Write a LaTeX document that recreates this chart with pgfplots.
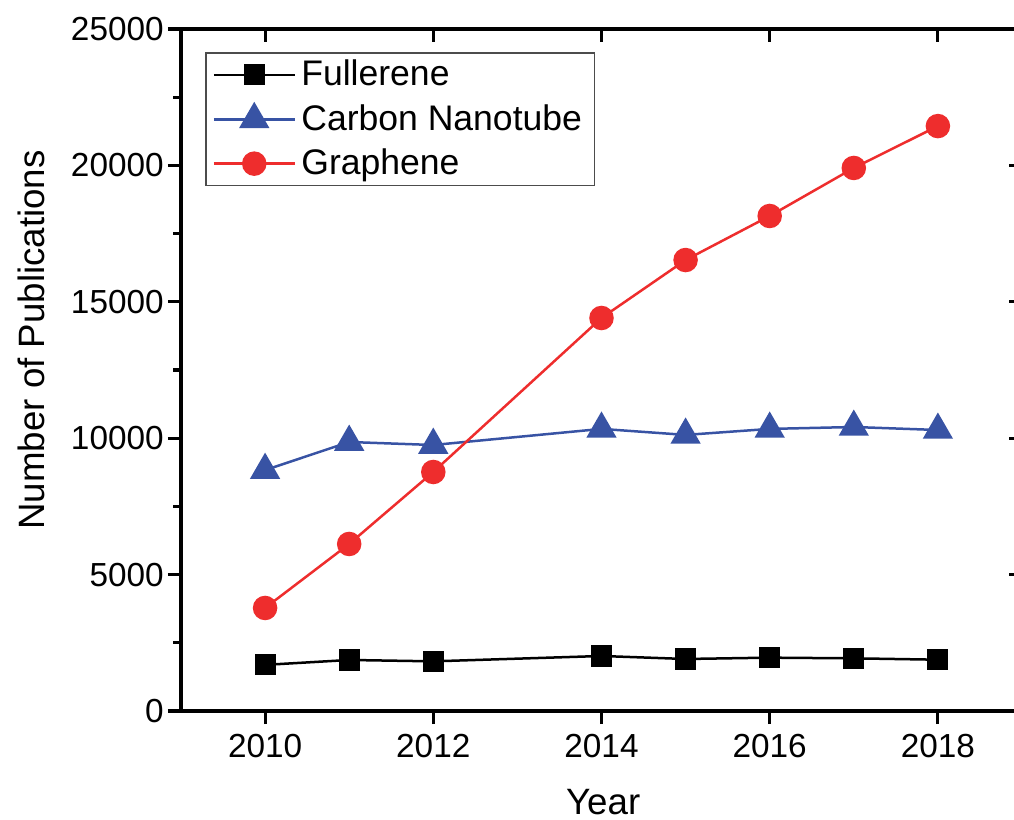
\documentclass[border=0pt]{standalone}
\usepackage{pgfplots}
\pgfplotsset{compat=1.18}
\usepackage{fontspec}
\setmainfont{Liberation Sans}
\definecolor{cred}{RGB}{238,45,45}
\definecolor{cblue}{RGB}{56,83,164}
\begin{document}
\begin{tikzpicture}
\pgfplotsset{
  common/.style={
    scale only axis, width=302.76pt, height=245.52pt,
    xmin=2009, xmax=2019, ymin=0, ymax=25000,
    xtick={2010,2012,...,2018}, ytick={0,5000,...,25000},
    minor x tick num=1, minor y tick num=1,
    axis line style={line width=1.1pt},
    major tick length=4.7pt, minor tick length=2.8pt,
    tick style={line width=1.1pt, black},
    scaled y ticks=false,
    /pgf/number format/1000 sep={},
    /pgf/number format/assume math mode=true,
    ticklabel style={font=\fontsize{12}{14}\selectfont},
  }
}
\begin{axis}[common, name=ax,
  xtick pos=left, ytick pos=left, tick align=outside,
  yticklabel style={xshift=2pt},
  xlabel={Year}, ylabel={Number of Publications},
  label style={font=\fontsize{13.2}{15}\selectfont},
  xlabel style={at={(axis description cs:0.502,-0.1525)}, anchor=base},
  ylabel style={at={(axis description cs:-0.1617,0.544)}, anchor=base},
  legend style={at={(0.0285,0.966)}, anchor=north west, draw=black!70,
    line width=0.6pt, font=\fontsize{12.8}{15}\selectfont,
    row sep=1.2pt, inner xsep=2.5pt, inner ysep=0.5pt, cells={anchor=west}},
  legend image code/.code={\draw[mark repeat=2, mark phase=2] plot coordinates {(0pt,0pt)(14.5pt,0pt)(29pt,0pt)};},
]
\addplot[black, line width=0.9pt, mark=square*, mark size=3.35pt] coordinates {
 (2010,1690) (2011,1870) (2012,1820) (2014,2016) (2015,1906) (2016,1955) (2017,1930) (2018,1880)};
\addlegendentry{Fullerene}
\addplot[cblue, line width=0.9pt, mark=triangle*, mark size=5.4pt] coordinates {
 (2010,8830) (2011,9860) (2012,9750) (2014,10340) (2015,10120) (2016,10340) (2017,10410) (2018,10300)};
\addlegendentry{Carbon Nanotube}
\addplot[cred, line width=0.9pt, mark=*, mark size=3.96pt] coordinates {
 (2010,3776) (2011,6122) (2012,8761) (2014,14406) (2015,16530) (2016,18145) (2017,19905) (2018,21440)};
\addlegendentry{Graphene}
\coordinate (bl) at (rel axis cs:-0.2152,-0.1584);
\coordinate (tr) at (rel axis cs:0.9905,1.0425);
\end{axis}
\begin{axis}[common,
  xtick pos=right, ytick pos=right, tick align=inside,
  xticklabels={}, yticklabels={},
]
\end{axis}
\pgfresetboundingbox
\path[use as bounding box] (bl) rectangle (tr);
\end{tikzpicture}
\end{document}
